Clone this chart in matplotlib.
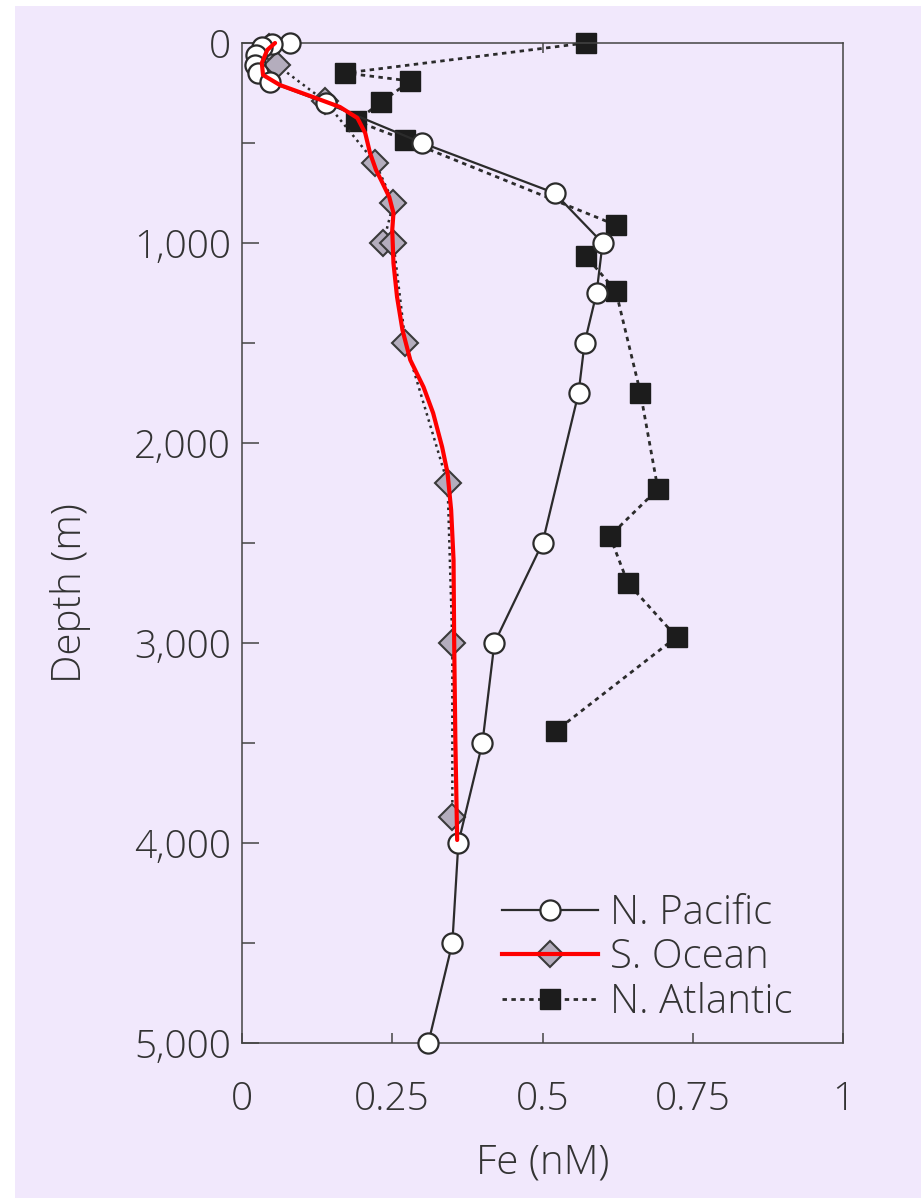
import numpy as np
import matplotlib
matplotlib.use("Agg")
import matplotlib.pyplot as plt
from matplotlib.patches import Rectangle
from matplotlib.ticker import FuncFormatter, FixedLocator
from matplotlib.legend_handler import HandlerTuple
from matplotlib.lines import Line2D

plt.rcParams['font.family'] = ['Open Sans', 'DejaVu Sans']
plt.rcParams['font.weight'] = 'light'
plt.rcParams['axes.labelweight'] = 'light'

# N. Pacific profile
pac_depth = [0, 5, 20, 60, 110, 150, 195, 300, 500, 750, 1000, 1250, 1500, 1750, 2500, 3000, 3500, 4000, 4500, 5000]
pac_fe = [0.08, 0.05, 0.033, 0.023, 0.022, 0.027, 0.047, 0.14, 0.30, 0.52, 0.60, 0.59, 0.57, 0.56, 0.50, 0.42, 0.40, 0.36, 0.35, 0.31]

# S. Ocean profile
so_depth = [20, 110, 290, 600, 800, 1000, 1000, 1500, 2200, 3000, 3870]
so_fe = [0.045, 0.058, 0.138, 0.222, 0.252, 0.235, 0.252, 0.272, 0.342, 0.35, 0.35]

# red smoothed S. Ocean curve
fit_depth = [0, 35, 100, 160, 210, 270, 320, 375, 450, 550, 635, 695, 770, 850, 935, 1100, 1270,
             1435, 1585, 1720, 1850, 2020, 2150, 2335, 2585, 2985, 3485, 3985]
fit_fe = [0.055, 0.042, 0.033, 0.035, 0.063, 0.118, 0.163, 0.192, 0.205, 0.213, 0.223, 0.233, 0.245,
          0.252, 0.25, 0.252, 0.258, 0.267, 0.28, 0.302, 0.318, 0.333, 0.342, 0.348, 0.352, 0.353, 0.355, 0.358]

# N. Atlantic profile
atl_depth = [0, 150, 190, 295, 390, 485, 910, 1065, 1240, 1750, 2230, 2465, 2700, 2970, 3440]
atl_fe = [0.572, 0.172, 0.28, 0.232, 0.19, 0.272, 0.622, 0.572, 0.622, 0.663, 0.692, 0.612, 0.642, 0.723, 0.522]

x_ticks = [0, 0.25, 0.5, 0.75, 1]
x_tick_labels = ['0', '0.25', '0.5', '0.75', '1']
y_ticks = [0, 1000, 2000, 3000, 4000, 5000]

bg = '#f1e8fc'
ink = '#2b2b2b'
txt = '#333333'
fs = 28

fig = plt.figure(figsize=(9.24, 11.98), dpi=100, facecolor='white')
fig.patches.append(Rectangle((15 / 924, 0), (921 - 15) / 924, 1 - 6 / 1198,
                             transform=fig.transFigure, facecolor=bg, edgecolor='none', zorder=-1))

ax = fig.add_axes([242 / 924, 1 - 1043 / 1198, 601 / 924, 1000 / 1198])
ax.set_facecolor(bg)

ax.plot(atl_fe, atl_depth, color=ink, lw=2, linestyle=(0, (1.6, 1.6)),
        marker='s', ms=14, mfc='#1c1c1c', mec='#1c1c1c', clip_on=False, zorder=2)
ax.plot(so_fe, so_depth, color=ink, lw=1.8, linestyle=(0, (1, 1.6)),
        marker='D', ms=13, mfc='#b4adbd', mec='#3a3a3a', mew=1.5, clip_on=False, zorder=3)
ax.plot(pac_fe, pac_depth, color=ink, lw=1.6, linestyle='-',
        marker='o', ms=14.5, mfc='white', mec=ink, mew=1.6, clip_on=False, zorder=4)
ax.plot(fit_fe, fit_depth, color='#ff0000', lw=3, clip_on=False, zorder=5,
        solid_capstyle='round')

ax.set_xlim(0, 1)
ax.set_ylim(5000, 0)

ax.set_xticks(x_ticks)
ax.set_xticklabels(x_tick_labels)
ax.xaxis.set_minor_locator(FixedLocator([0.5]))
ax.xaxis.remove_overlapping_locs = False
ax.set_yticks(y_ticks)
ax.yaxis.set_minor_locator(FixedLocator([500, 1500, 2500, 3500, 4500]))
ax.yaxis.set_major_formatter(FuncFormatter(lambda v, p: f'{int(v):,}'))

ax.tick_params(axis='x', which='major', direction='in', length=7, width=1.1, color='#444444',
               labelsize=fs, labelcolor=txt, pad=27, top=False)
ax.tick_params(axis='x', which='minor', direction='in', length=7, width=1.1, color='#444444',
               top=True, bottom=False)
ax.tick_params(axis='y', which='major', direction='in', length=12, width=1.1, color='#444444',
               labelsize=fs, labelcolor=txt, pad=8, right=False)
ax.tick_params(axis='y', which='minor', direction='in', length=9, width=1.1, color='#444444', right=False)

for s in ax.spines.values():
    s.set_color('#444444')
    s.set_linewidth(1.1)

ax.set_xlabel('Fe (nM)', fontsize=29, color=txt, va='center')
ax.xaxis.set_label_coords(0.5, -0.12)
ax.set_ylabel('Depth (m)', fontsize=29, color=txt, va='center')
ax.yaxis.set_label_coords(-0.286, 0.45)

h_pac = Line2D([], [], color=ink, lw=1.6, marker='o', ms=14.5, mfc='white', mec=ink, mew=1.6)
h_so = Line2D([], [], color=ink, lw=1.8, linestyle=(0, (1, 1.6)), marker='D', ms=13,
              mfc='#b4adbd', mec='#3a3a3a', mew=1.5)
h_red = Line2D([], [], color='#ff0000', lw=3)
h_atl = Line2D([], [], color=ink, lw=2, linestyle=(0, (1.6, 1.6)), marker='s', ms=14,
               mfc='#1c1c1c', mec='#1c1c1c')
leg = ax.legend([h_pac, (h_so, h_red), h_atl], ['N. Pacific', 'S. Ocean', 'N. Atlantic'],
                handler_map={tuple: HandlerTuple(ndivide=1)},
                loc='center left', bbox_to_anchor=((502 - 242) / 601, 1 - (958 - 43) / 1000),
                frameon=False, fontsize=29, numpoints=1, handlelength=2.38,
                handletextpad=0.3, labelspacing=0.08, borderpad=0, borderaxespad=0)
for t in leg.get_texts():
    t.set_color(txt)

fig.savefig('out.png', dpi=100, facecolor='white')
